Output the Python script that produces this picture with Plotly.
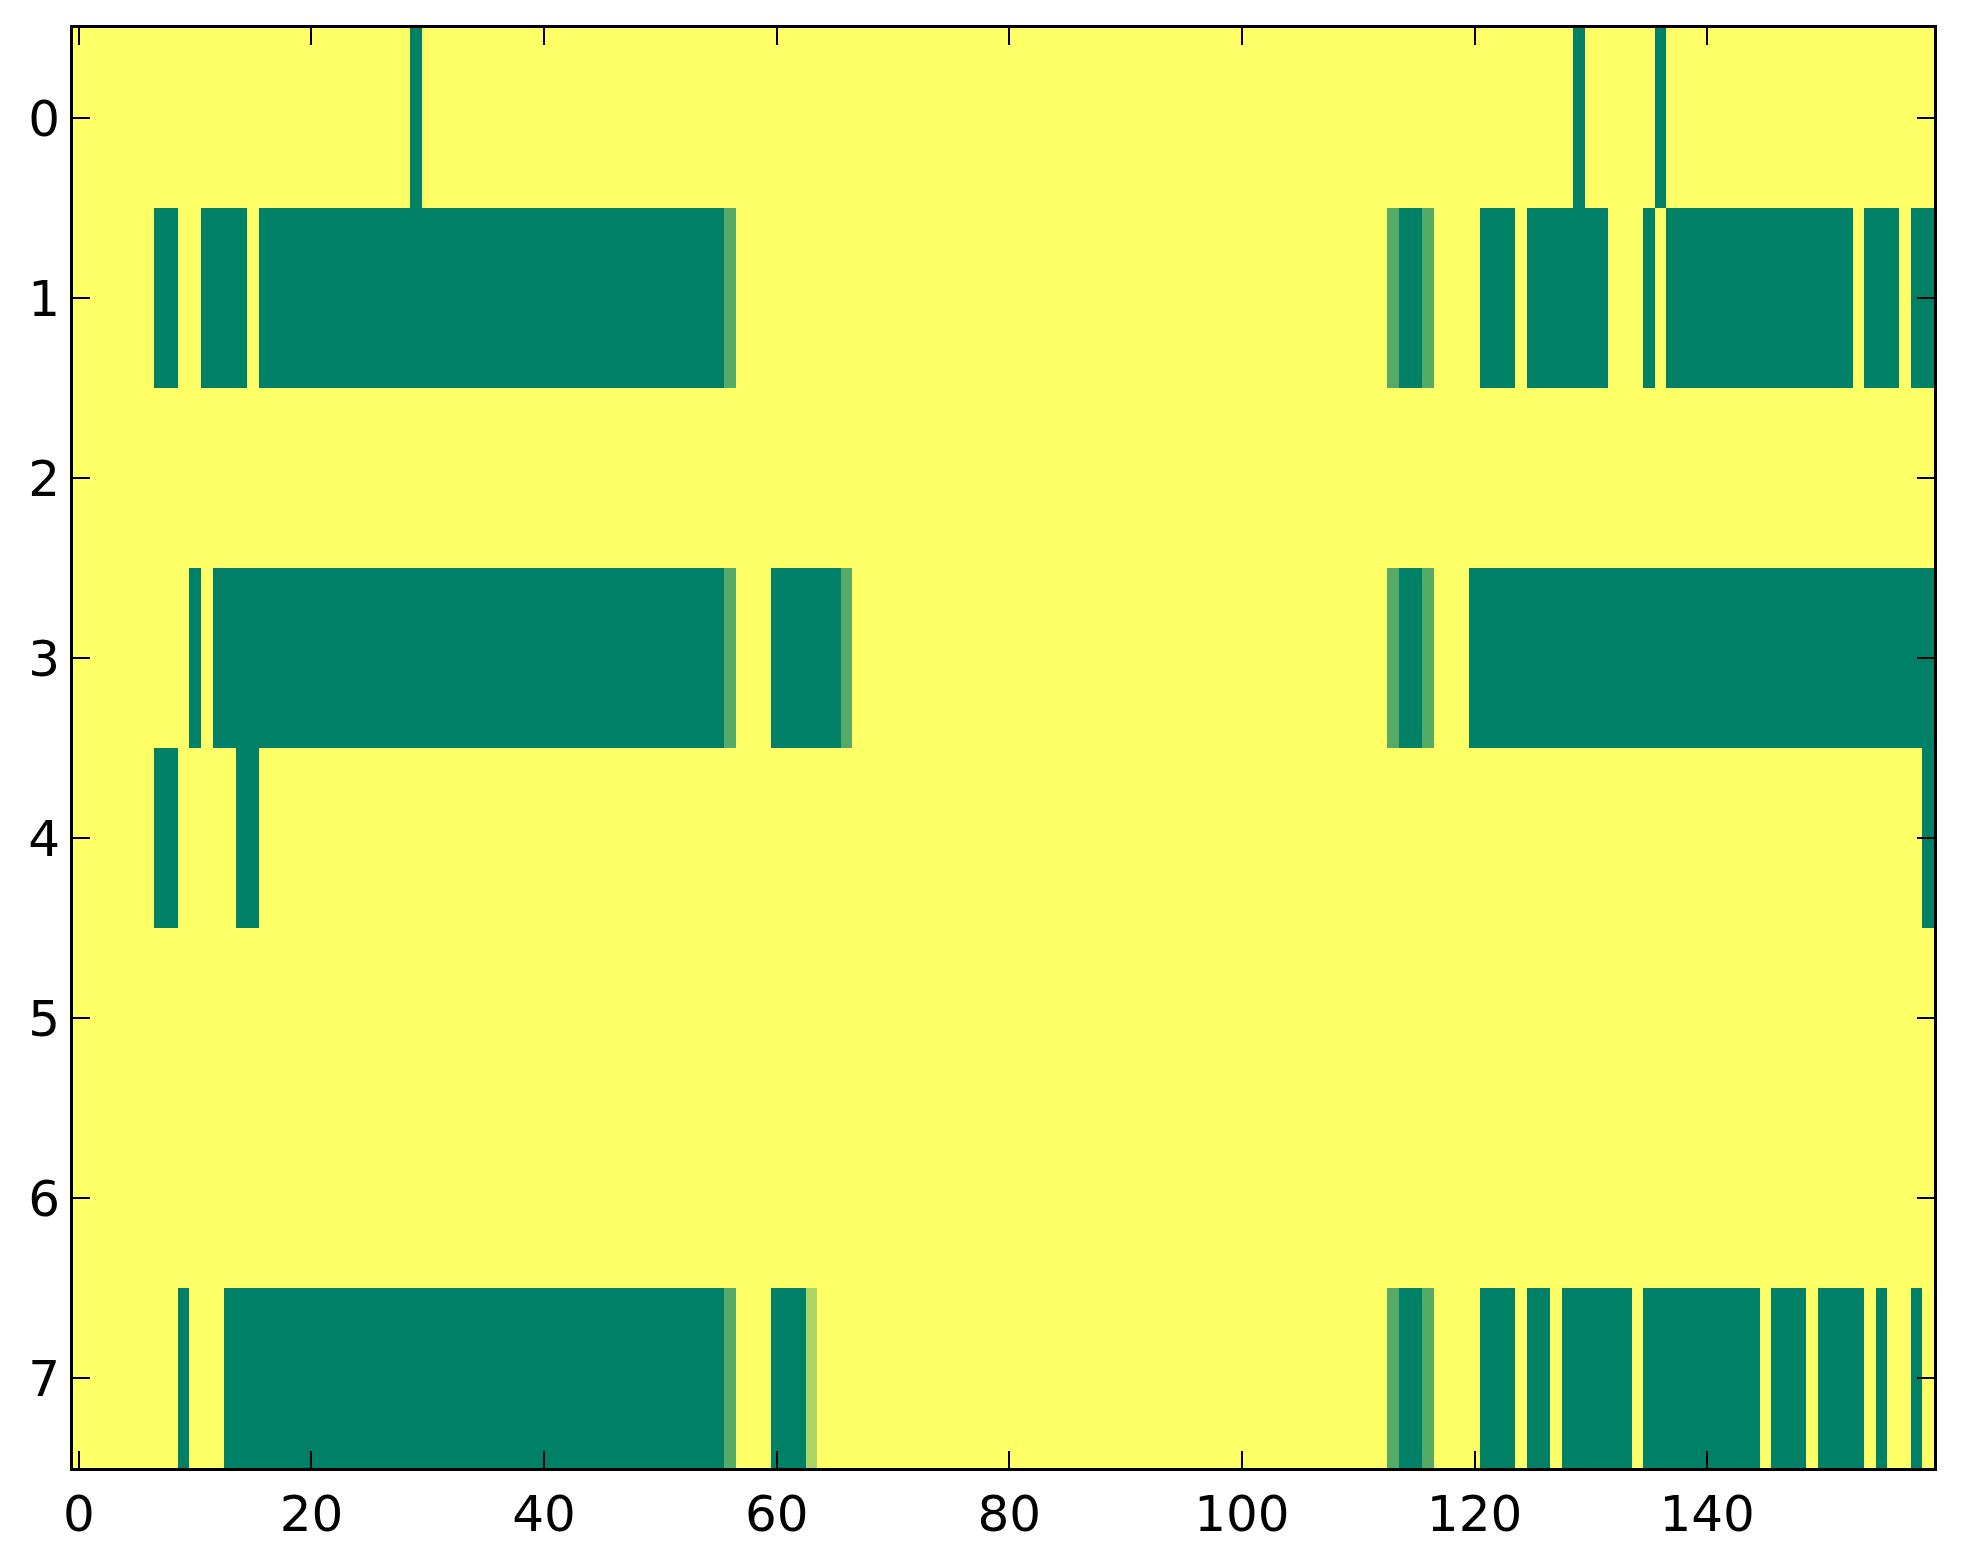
import plotly.graph_objects as go
import numpy as np

# each row: 160 cells, 0 = none ... 3 = full (grouped by 10 for reading)
row_0 = "0000000000 0000000000 0000000003 0000000000 0000000000 0000000000 0000000000 0000000000 0000000000 0000000000 0000000000 0000000000 0000000003 0000003000 0000000000 0000000000"
row_1 = "0000000330 0333303333 3333333333 3333333333 3333333333 3333332000 0000000000 0000000000 0000000000 0000000000 0000000000 0002332000 0333033333 3300030333 3333333333 3330333033"
row_2 = "0000000000 0000000000 0000000000 0000000000 0000000000 0000000000 0000000000 0000000000 0000000000 0000000000 0000000000 0000000000 0000000000 0000000000 0000000000 0000000000"
row_3 = "0000000000 3033333333 3333333333 3333333333 3333333333 3333332000 3333332000 0000000000 0000000000 0000000000 0000000000 0002332000 3333333333 3333333333 3333333333 3333333333"
row_4 = "0000000330 0000330000 0000000000 0000000000 0000000000 0000000000 0000000000 0000000000 0000000000 0000000000 0000000000 0000000000 0000000000 0000000000 0000000000 0000000003"
row_5 = "0000000000 0000000000 0000000000 0000000000 0000000000 0000000000 0000000000 0000000000 0000000000 0000000000 0000000000 0000000000 0000000000 0000000000 0000000000 0000000000"
row_6 = "0000000000 0000000000 0000000000 0000000000 0000000000 0000000000 0000000000 0000000000 0000000000 0000000000 0000000000 0000000000 0000000000 0000000000 0000000000 0000000000"
row_7 = "0000000003 0003333333 3333333333 3333333333 3333333333 3333332000 3331000000 0000000000 0000000000 0000000000 0000000000 0002332000 0333033033 3333033333 3333303330 3333030030"

rows = [row_0, row_1, row_2, row_3, row_4, row_5, row_6, row_7]
x_ticks = [0, 20, 40, 60, 80, 100, 120, 140]
y_ticks = [0, 1, 2, 3, 4, 5, 6, 7]


def parse_row(s):
    return [int(c) for c in s.replace(" ", "")]


z = np.array([parse_row(r) for r in rows])
n_rows, n_cols = z.shape

fig = go.Figure(data=go.Heatmap(
    z=z,
    x=list(range(n_cols)),
    y=list(range(n_rows)),
    zmin=0, zmax=3,
    colorscale=[[0, "#ffff66"], [1, "#008066"]],
    showscale=False,
    hoverinfo="skip",
))

axis_style = dict(
    showgrid=False, zeroline=False,
    showline=True, linecolor="black", linewidth=3, mirror="allticks",
    ticks="inside", ticklen=17, tickwidth=2, tickcolor="black",
    tickfont=dict(family="DejaVu Sans", size=50, color="black"),
)

fig.update_xaxes(range=[-0.5, n_cols - 0.5], tickmode="array", tickvals=x_ticks, **axis_style)
fig.update_yaxes(range=[n_rows - 0.5, -0.5], tickmode="array", tickvals=y_ticks, ticklabelstandoff=0, **axis_style)

# page body adds 8px, so margins are shifted by that
fig.update_layout(
    width=1963, height=1564,
    margin=dict(l=65, r=37, t=20, b=104),
    plot_bgcolor="white", paper_bgcolor="white",
)

fig.write_html("out.html")
